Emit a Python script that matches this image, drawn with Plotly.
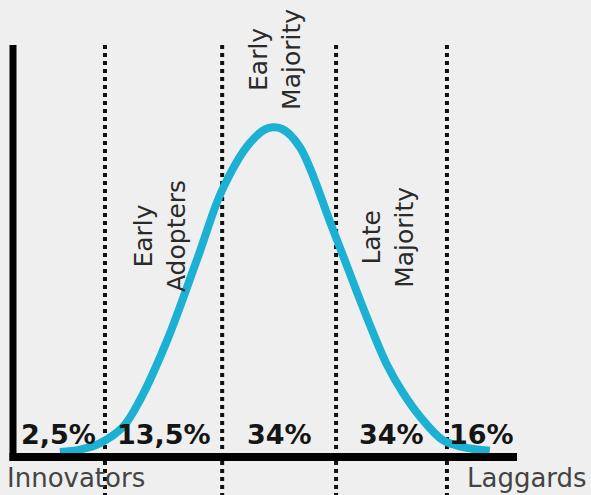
import plotly.graph_objects as go

# Adoption curve (x: adoption time 0-100, y: share of adopters 0-100)
curve_x = [9.3, 13.3, 17.3, 21.8, 25.2, 30.6, 36.7, 41.5, 47.0, 50.6,
           53.4, 56.9, 63.5, 70.2, 74.2, 77.4, 80.8, 85.3, 89.3, 94.6]
curve_y = [1.2, 1.8, 3.4, 7.3, 13.9, 28.5, 48.8, 65.1, 76.6, 80.2,
           80.0, 75.6, 55.4, 34.1, 22.5, 15.6, 9.8, 4.1, 2.4, 1.5]

# Segment boundaries (dotted lines) and axis end
boundaries = [18.25, 41.5, 64.1, 86.1]
axis_end = 100
axis_top = 100.5

shares = ["2,5%", "13,5%", "34%", "34%", "16%"]
segment_names = ["Innovators", "Early<br>Adopters", "Early<br>Majority", "Late<br>Majority", "Laggards"]
# vertical position of the rotated segment labels (same units as curve_y)
rotated_label_y = [None, 53.9, 97.0, 53.7, None]

BG = "#efefef"
CURVE = "#1cb0d3"

fig = go.Figure()

edges = [0] + boundaries + [axis_end]
centers = [(edges[i] + edges[i + 1]) / 2 for i in range(len(edges) - 1)]

# dotted boundaries
for b in boundaries:
    fig.add_shape(type="line", x0=b, x1=b, y0=axis_top, y1=-12,
                  line=dict(color="#111111", width=4, dash="dot"), layer="below")

# curve
fig.add_trace(go.Scatter(x=curve_x, y=curve_y, mode="lines", line_shape="spline",
                         line=dict(color=CURVE, width=8), hoverinfo="skip", showlegend=False))

# axes lines
fig.add_shape(type="line", x0=0, x1=0, y0=axis_top, y1=-1,
              line=dict(color="black", width=7))
fig.add_shape(type="line", x0=-0.7, x1=axis_end, y0=0, y1=0,
              line=dict(color="black", width=8))

# percentages
for c, s in zip(centers, shares):
    fig.add_annotation(x=c, y=5.6, text=f"<b>{s}</b>", showarrow=False,
                       font=dict(family="DejaVu Sans", size=27, color="#151515"),
                       xanchor="center", yanchor="middle")

# rotated labels
for c, name, ly in zip(centers, segment_names, rotated_label_y):
    if ly is None:
        continue
    fig.add_annotation(x=c - 0.7, y=ly, text=name, showarrow=False, textangle=-90,
                       font=dict(family="DejaVu Sans", size=25, color="#2a2a2a"),
                       xanchor="center", yanchor="middle", align="center")

# end labels below axis
fig.add_annotation(x=-1.6, y=-5.1, text=segment_names[0], showarrow=False,
                   font=dict(family="DejaVu Sans", size=26, color="#444444"),
                   xanchor="left", yanchor="middle")
fig.add_annotation(x=114.2, y=-5.1, text=segment_names[-1], showarrow=False,
                   font=dict(family="DejaVu Sans", size=26, color="#444444"),
                   xanchor="right", yanchor="middle")

fig.update_layout(
    width=591, height=495,
    margin=dict(l=0, r=0, t=0, b=0),
    paper_bgcolor=BG, plot_bgcolor=BG,
    xaxis=dict(range=[-2.58, 114.68], visible=False, fixedrange=True),
    yaxis=dict(range=[-9.27, 111.46], visible=False, fixedrange=True),
    showlegend=False,
)

fig.write_html("out.html")
